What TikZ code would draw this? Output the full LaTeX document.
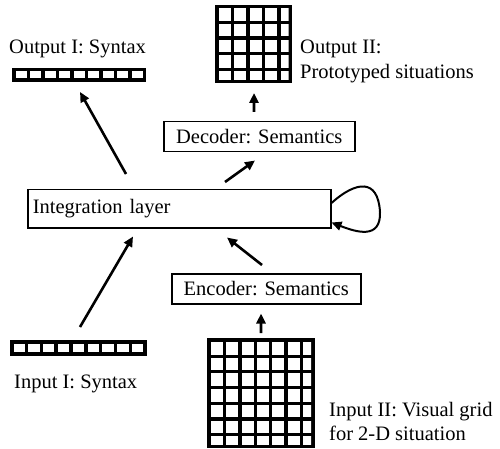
\documentclass[tikz,border=0pt]{standalone}
\usepackage{fontspec}
\setmainfont{Liberation Serif}
\usetikzlibrary{arrows.meta}
\begin{document}
\begin{tikzpicture}[x=1bp,y=-1bp,
  txt/.style={inner sep=0pt, font=\fontsize{20.5bp}{24bp}\selectfont},
  box/.style={draw, line width=1.5bp, inner sep=0pt, anchor=north west,
              font=\fontsize{20.5bp}{24bp}\selectfont},
  block/.style={fill=black, inner sep=0pt, outer sep=0pt, anchor=north west},
  arr/.style={line width=2.6bp, -{Triangle[length=10bp,width=9bp]}}]
\useasboundingbox (0,0) rectangle (500,449);

% ---- processing layers ----
\node[box, minimum height=38bp, text width=293bp, inner xsep=5bp, align=left]
  (intg) at (27,189) {Integration layer};
\node[box, minimum width=191bp, minimum height=30bp] (dec) at (163,121) {Decoder: Semantics};
\node[box, minimum width=189bp, minimum height=30bp] (enc) at (171,273) {Encoder: Semantics};

% ---- output I: syntax bar ----
\node[block, minimum width=134bp, minimum height=14bp] (outbar) at (12,68) {};
\foreach \i in {0,...,8}
  \fill[white] ({15.5+\i*14.5},71.5) rectangle ++(11,7);

% ---- input I: syntax bar ----
\node[block, minimum width=137bp, minimum height=16bp] (inbar) at (10,340) {};
\foreach \i in {0,...,8}
  \fill[white] ({13.5+\i*14.83},344) rectangle ++(11.33,8);

% ---- output II: 5x5 grid ----
\node[block, minimum width=77bp, minimum height=78bp] (outgrid) at (215,5) {};
\begin{scope}
  \clip (218.5,8.5) rectangle (288.5,79.5);
  \foreach \i in {0,...,4}
    \foreach \j in {0,...,4}
      \fill[white] ({218.5+\i*15.5},{8.5+\j*15.6}) rectangle ++(12.3,12.4);
\end{scope}

% ---- input II: 7x7 grid ----
\node[block, minimum width=108bp, minimum height=110bp] (ingrid) at (207,338) {};
\begin{scope}
  \clip (211,342) rectangle (311,444);
  \foreach \i in {0,...,6}
    \foreach \j in {0,...,6}
      \fill[white] ({211+\i*15.3},{342+\j*15.7}) rectangle ++(12.1,12.5);
\end{scope}

% ---- labels ----
\node[txt, anchor=base west] (lout1) at (9,54) {Output I: Syntax};
\node[txt, anchor=base west] (lout2a) at (300,54) {Output II:};
\node[txt, anchor=base west] (lout2b) at (300,79) {Prototyped situations};
\node[txt, anchor=base west] (lin1) at (14,388) {Input I: Syntax};
\node[txt, anchor=base west] (lin2a) at (329,416) {Input II: Visual grid};
\node[txt, anchor=base west] (lin2b) at (329,440) {for 2-D situation};

% ---- connections ----
\draw[arr] ([xshift=99bp,yshift=15bp]intg.north west) -- ([xshift=68bp,yshift=-10bp]outbar.south west);
\draw[arr] ([xshift=198bp,yshift=7bp]intg.north west) -- ([xshift=92bp,yshift=-8bp]dec.south west);
\draw[arr] ([xshift=91bp,yshift=9bp]dec.north west) -- ([xshift=39bp,yshift=-10bp]outgrid.south west);
\draw[arr] ([xshift=70bp,yshift=13bp]inbar.north west) -- ([xshift=106bp,yshift=-8bp]intg.south west);
\draw[arr] ([xshift=91bp,yshift=8bp]enc.north west) -- ([xshift=200bp,yshift=-9bp]intg.south west);
\draw[arr] ([xshift=54bp,yshift=5bp]ingrid.north west) -- ([xshift=90bp,yshift=-9bp]enc.south west);

% recurrent loop on the integration layer
\coordinate (loopR) at (380,212);
\draw[line width=2bp, -{Triangle[length=10bp,width=9bp]}]
  ([yshift=-14bp]intg.north east) .. controls (356,181) and (378,178) .. (loopR)
  .. controls (381,240) and (356,232) .. ([yshift=6bp]intg.south east);
\end{tikzpicture}
\end{document}
